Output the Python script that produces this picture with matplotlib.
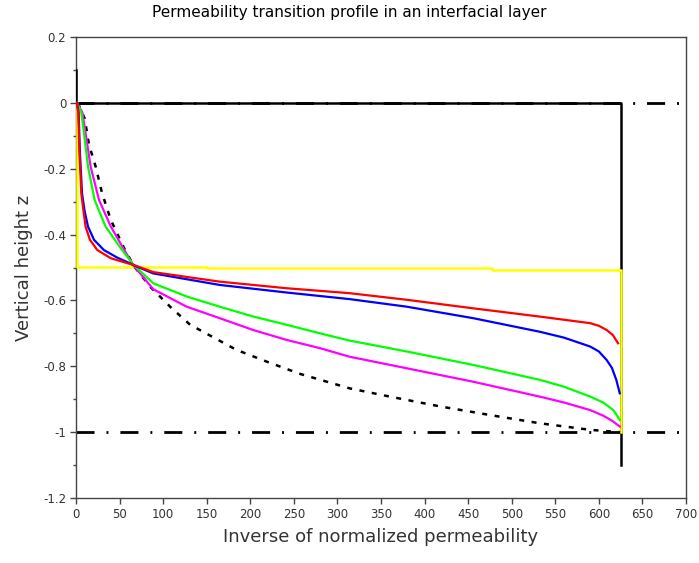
import numpy as np
import matplotlib
matplotlib.use('Agg')
import matplotlib.pyplot as plt

# curves: x = inverse of normalized permeability, z = vertical height
red_x = [1, 2.7, 3.8, 6.1, 8.4, 11, 16, 24.5, 40, 59, 66, 88.7, 165, 241.8, 314,
         379.5, 456, 532, 590, 600, 609, 616, 622]
red_z = [0, -0.029, -0.143, -0.275, -0.325, -0.376, -0.416, -0.447, -0.472, -0.487, -0.492, -0.514, -0.543, -0.563, -0.578,
         -0.598, -0.624, -0.649, -0.669, -0.677, -0.69, -0.705, -0.73]

blue_x = [1, 3, 4.5, 6.9, 10, 13.8, 20.7, 32, 47.4, 60, 66, 88.7, 165, 241.8, 314,
          379.5, 456, 532, 560, 590, 600, 609, 615, 620, 624]
blue_z = [0, -0.03, -0.15, -0.275, -0.33, -0.376, -0.416, -0.447, -0.47, -0.485, -0.493, -0.518, -0.553, -0.576, -0.596,
          -0.619, -0.654, -0.695, -0.713, -0.74, -0.755, -0.781, -0.805, -0.841, -0.882]

green_x = [1, 6.1, 9.2, 13.8, 21.4, 34, 51, 66, 88.7, 127, 165, 203.5, 241.8, 280, 314,
           379.5, 456, 532, 560, 590, 605, 616.6, 624]
green_z = [0, -0.029, -0.092, -0.194, -0.295, -0.376, -0.44, -0.492, -0.548, -0.588, -0.619, -0.649, -0.674, -0.7, -0.722,
           -0.755, -0.796, -0.841, -0.862, -0.892, -0.91, -0.933, -0.963]

magenta_x = [1, 7.3, 11, 16.8, 26.4, 40, 55, 66, 88.7, 127, 165, 203.5, 241.8, 280, 314,
             379.5, 456, 532, 560, 590, 605, 615, 624]
magenta_z = [0, -0.029, -0.092, -0.194, -0.295, -0.376, -0.445, -0.494, -0.566, -0.619, -0.654, -0.69, -0.72, -0.745, -0.771,
             -0.806, -0.847, -0.892, -0.91, -0.933, -0.95, -0.965, -0.983]

dotted_x = [2, 10, 15, 22.6, 30, 40, 55, 66, 85, 108, 131, 157.6, 184, 219, 257, 314,
            360, 418, 475, 532, 590, 624]
dotted_z = [0, -0.048, -0.128, -0.194, -0.275, -0.356, -0.44, -0.494, -0.558, -0.619, -0.674, -0.712, -0.75, -0.786, -0.823, -0.867,
            -0.892, -0.922, -0.948, -0.973, -0.993, -1.0]

# sharp interface (step) profile
yellow_x = [1, 1, 150, 150, 477, 477, 625, 625]
yellow_z = [0, -0.497, -0.497, -0.502, -0.502, -0.507, -0.507, -1.0]

# layer bounds drawn as a black frame
frame_x = [0, 0, 625, 625]
frame_z = [0.1, 0, 0, -1.1]

# top and bottom of the interfacial layer
layer_levels = [0, -1]

xticks = np.arange(0, 701, 50)
yticks = [-1.2, -1, -0.8, -0.6, -0.4, -0.2, 0, 0.2]
ytick_labels = ['-1.2', '-1', '-0.8', '-0.6', '-0.4', '-0.2', '0', '0.2']

fig = plt.figure(figsize=(6.99, 5.63), dpi=100)
ax = fig.add_axes([76 / 699, 1 - 498 / 563, 610 / 699, 461 / 563])

for lev in layer_levels:
    ax.plot([0, 700], [lev, lev], color='black', lw=2, ls=(0, (6.5, 4.3, 0.7, 4.3)), zorder=2)

ax.plot(frame_x, frame_z, color='black', lw=1.8, zorder=3)
ax.plot(yellow_x, yellow_z, color='#ffff00', lw=1.8, zorder=4)
ax.plot(dotted_x, dotted_z, color='black', lw=1.8, ls=(0, (2, 3)), zorder=5)
ax.plot(magenta_x, magenta_z, color='#ff00ff', lw=1.6, zorder=5)
ax.plot(green_x, green_z, color='#00ff00', lw=1.6, zorder=5)
ax.plot(blue_x, blue_z, color='#0000ff', lw=1.6, zorder=5)
ax.plot(red_x, red_z, color='#ff0000', lw=1.6, zorder=6)

ax.set_xlim(0, 700)
ax.set_ylim(-1.2, 0.2)
ax.set_xticks(xticks)
ax.set_yticks(yticks)
ax.set_yticklabels(ytick_labels)
ax.set_yticks(np.arange(-1.1, 0.2, 0.2), minor=True)

for s in ax.spines.values():
    s.set_color('#444444')
    s.set_linewidth(1.0)
ax.tick_params(axis='both', which='major', direction='out', length=4, width=1,
               color='#444444', labelsize=8.5, labelcolor='#333333', pad=3)
ax.tick_params(axis='y', which='minor', direction='out', length=2.5, width=1, color='#444444')

ax.set_xlabel('Inverse of normalized permeability', fontsize=13, color='#333333', labelpad=5)
ax.set_ylabel('Vertical height z', fontsize=13, color='#333333', labelpad=7)
fig.suptitle('Permeability transition profile in an interfacial layer', fontsize=11, y=0.977, va='center')

fig.savefig('out.png', dpi=100)
